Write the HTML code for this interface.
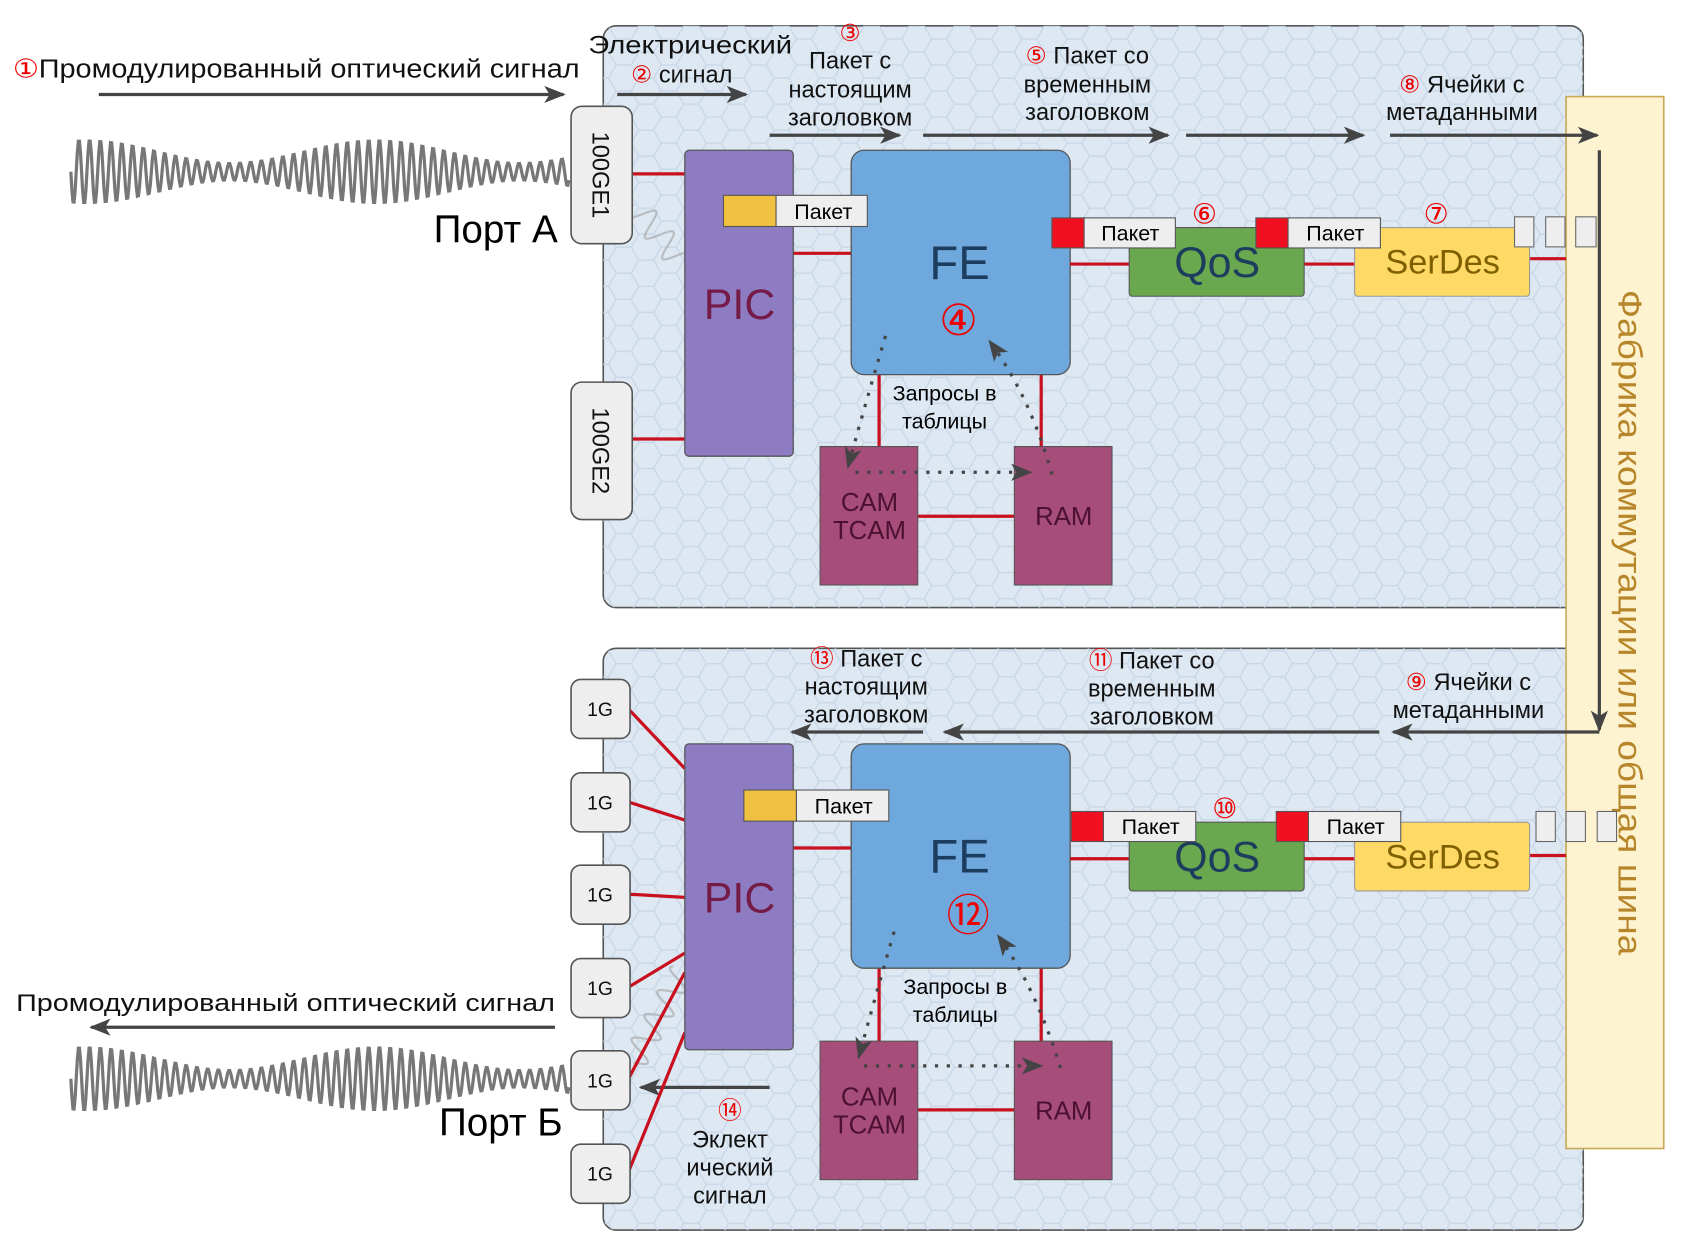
<!DOCTYPE html>
<html><head><meta charset="utf-8"><style>
html,body{margin:0;padding:0;background:#fff}
svg{display:block}
text{font-family:"Liberation Sans",sans-serif}
</style></head><body>
<svg width="1682" height="1236" viewBox="0 0 1567 1151.5" xmlns="http://www.w3.org/2000/svg">
<defs>
<pattern id="hex" width="42" height="24.25" patternUnits="userSpaceOnUse">
<path d="M0,12.1 L7,0 L21,0 L28,12.1 L21,24.25 L7,24.25 Z M28,12.1 L42,12.1" fill="none" stroke="#c9d7e6" stroke-width="1.3"/>
</pattern>
<marker id="ah2" markerWidth="20" markerHeight="20" refX="18" refY="10" orient="auto" markerUnits="userSpaceOnUse" viewBox="0 0 20 20">
<path d="M0,2 L20,10 L0,18 L5,10 Z" fill="#444"/>
</marker>
</defs>

<rect x="562" y="24" width="913" height="542" rx="12" fill="#dde8f3" stroke="#555" stroke-width="1.5"/>
<rect x="562" y="24" width="913" height="542" rx="12" fill="url(#hex)"/>
<rect x="562" y="604" width="913" height="542" rx="12" fill="#dde8f3" stroke="#555" stroke-width="1.5"/>
<rect x="562" y="604" width="913" height="542" rx="12" fill="url(#hex)"/>

<rect x="1459" y="90" width="91" height="980" fill="#fdf3d0" stroke="#c9a85a" stroke-width="1.5"/>
<text x="0" y="0" transform="translate(1508,580) rotate(90)" text-anchor="middle" font-size="31" fill="#b8862a" textLength="620" lengthAdjust="spacingAndGlyphs">Фабрика коммутации или общая шина</text>
<line x1="1490" y1="140" x2="1490" y2="680" stroke="#444" stroke-width="3" marker-end="url(#ah2)"/>

<path id="w1" fill="none" stroke="#777" stroke-width="3"/>
<path id="w2" fill="none" stroke="#777" stroke-width="3"/>
<path id="w3" fill="none" stroke="#aaa" stroke-width="2" opacity="0.7"/>
<path id="w4" fill="none" stroke="#aaa" stroke-width="2" opacity="0.7"/>
<script>
function wave(id,y0,x0,x1){var d="";for(var x=x0;x<=x1;x+=1){var A=19+11*Math.cos(2*Math.PI*(x-80)/270);var y=y0+A*Math.sin(2*Math.PI*(x-x0)/10);d+=(x==x0?"M":"L")+x+","+y.toFixed(1);}document.getElementById(id).setAttribute("d",d);}
wave("w1",160,66,530);wave("w2",1005,66,530);
function dw(id,ax,ay,bx,by){var d="",n=120;var dx=bx-ax,dy=by-ay,L=Math.hypot(dx,dy),nx=-dy/L,ny=dx/L;for(var i=0;i<=n;i++){var t=i/n;var s=12*Math.sin(t*L/4);d+=(i?"L":"M")+(ax+dx*t+nx*s).toFixed(1)+","+(ay+dy*t+ny*s).toFixed(1);}document.getElementById(id).setAttribute("d",d);}
dw("w3",590,190,636,245);dw("w4",590,990,636,905);
</script>

<text x="12" y="72" font-size="24" fill="#111" textLength="528" lengthAdjust="spacingAndGlyphs"><tspan fill="#e00">①</tspan>Промодулированный оптический сигнал</text>
<line x1="92" y1="88" x2="525" y2="88" stroke="#444" stroke-width="3" marker-end="url(#ah2)"/>
<text x="548" y="50" font-size="23" fill="#111" textLength="190" lengthAdjust="spacingAndGlyphs">Электрический</text>
<text x="588" y="77" font-size="22" fill="#111"><tspan fill="#e00">②</tspan> сигнал</text>
<line x1="575" y1="88" x2="695" y2="88" stroke="#444" stroke-width="3" marker-end="url(#ah2)"/>
<text x="792" y="38" font-size="22" fill="#e00" text-anchor="middle">③</text>
<text font-size="22" fill="#111" text-anchor="middle"><tspan x="792" y="64">Пакет с</tspan><tspan x="792" y="91">настоящим</tspan><tspan x="792" y="117">заголовком</tspan></text>
<line x1="717" y1="126" x2="838" y2="126" stroke="#444" stroke-width="3" marker-end="url(#ah2)"/>
<text font-size="22" fill="#111" text-anchor="middle"><tspan x="1013" y="59"><tspan fill="#e00">⑤</tspan> Пакет со</tspan><tspan x="1013" y="86">временным</tspan><tspan x="1013" y="112">заголовком</tspan></text>
<line x1="860" y1="126" x2="1088" y2="126" stroke="#444" stroke-width="3" marker-end="url(#ah2)"/>
<line x1="1105" y1="126" x2="1270" y2="126" stroke="#444" stroke-width="3" marker-end="url(#ah2)"/>
<text font-size="22" fill="#111" text-anchor="middle"><tspan x="1362" y="86"><tspan fill="#e00">⑧</tspan> Ячейки с</tspan><tspan x="1362" y="112">метаданными</tspan></text>
<line x1="1295" y1="126" x2="1488" y2="126" stroke="#444" stroke-width="3" marker-end="url(#ah2)"/>

<text x="404" y="226" font-size="36" fill="#000">Порт А</text>

<line x1="589" y1="162" x2="638" y2="162" stroke="#c8101e" stroke-width="3"/>
<line x1="589" y1="409" x2="638" y2="409" stroke="#c8101e" stroke-width="3"/>
<rect x="532" y="99" width="57" height="128" rx="10" fill="#eee" stroke="#555" stroke-width="1.5"/>
<text transform="translate(552,163) rotate(90)" font-size="22" text-anchor="middle" fill="#111">100GE1</text>
<rect x="532" y="356" width="57" height="128" rx="10" fill="#eee" stroke="#555" stroke-width="1.5"/>
<text transform="translate(552,420) rotate(90)" font-size="22" text-anchor="middle" fill="#111">100GE2</text>

<line x1="739" y1="236" x2="793" y2="236" stroke="#c8101e" stroke-width="3"/>
<rect x="638" y="140" width="101" height="285" rx="4" fill="#8e7cc3" stroke="#555" stroke-width="1.2"/>
<text x="689" y="297" font-size="40" fill="#741b47" text-anchor="middle">PIC</text>
<line x1="819" y1="349" x2="819" y2="416" stroke="#c8101e" stroke-width="3"/>
<line x1="970" y1="349" x2="970" y2="416" stroke="#c8101e" stroke-width="3"/>
<rect x="793" y="140" width="204" height="209" rx="12" fill="#6fa8dc" stroke="#555" stroke-width="1.2"/>
<text x="894" y="260" font-size="44" fill="#1c3d5e" text-anchor="middle">FE</text>
<text x="893" y="312" font-size="40" fill="#e00" text-anchor="middle">④</text>
<rect x="674" y="182" width="49" height="29" fill="#f0c040" stroke="#555"/>
<rect x="723" y="182" width="85" height="29" fill="#eee" stroke="#555"/>
<text x="767" y="204" font-size="20" text-anchor="middle" fill="#000">Пакет</text>

<line x1="997" y1="246" x2="1052" y2="246" stroke="#c8101e" stroke-width="3"/>
<line x1="1215" y1="246" x2="1262" y2="246" stroke="#c8101e" stroke-width="3"/>
<line x1="1425" y1="241" x2="1459" y2="241" stroke="#c8101e" stroke-width="3"/>
<rect x="1052" y="212" width="163" height="64" rx="3" fill="#6aa84f" stroke="#555"/>
<text x="1134" y="258" font-size="40" fill="#1c3d5e" text-anchor="middle">QoS</text>
<rect x="1262" y="212" width="163" height="64" rx="3" fill="#ffd966" stroke="#999"/>
<text x="1344" y="255" font-size="32" fill="#7f6000" text-anchor="middle">SerDes</text>
<rect x="980" y="203" width="30" height="28" fill="#f01020" stroke="#555"/>
<rect x="1010" y="203" width="85" height="28" fill="#eee" stroke="#555"/>
<text x="1053" y="224" font-size="20" text-anchor="middle" fill="#000">Пакет</text>
<rect x="1170" y="203" width="30" height="28" fill="#f01020" stroke="#555"/>
<rect x="1200" y="203" width="86" height="28" fill="#eee" stroke="#555"/>
<text x="1244" y="224" font-size="20" text-anchor="middle" fill="#000">Пакет</text>
<text x="1122" y="208" font-size="26" fill="#e00" text-anchor="middle">⑥</text>
<text x="1338" y="208" font-size="26" fill="#e00" text-anchor="middle">⑦</text>
<rect x="1411" y="202" width="18" height="28" fill="#eee" stroke="#666"/>
<rect x="1440" y="202" width="18" height="28" fill="#eee" stroke="#666"/>
<rect x="1468" y="202" width="19" height="28" fill="#eee" stroke="#666"/>

<line x1="855" y1="481" x2="945" y2="481" stroke="#c8101e" stroke-width="3"/>
<rect x="764" y="416" width="91" height="129" fill="#a64d79" stroke="#555"/>
<text font-size="24" fill="#4c1130" text-anchor="middle"><tspan x="810" y="476">CAM</tspan><tspan x="810" y="502">TCAM</tspan></text>
<rect x="945" y="416" width="91" height="129" fill="#a64d79" stroke="#555"/>
<text x="991" y="489" font-size="24" fill="#4c1130" text-anchor="middle">RAM</text>
<text font-size="20" fill="#000" text-anchor="middle"><tspan x="880" y="373">Запросы в</tspan><tspan x="880" y="399">таблицы</tspan></text>
<path d="M825,313 Q805,380 790,435" fill="none" stroke="#444" stroke-width="3" stroke-dasharray="3,8" marker-end="url(#ah2)"/>
<line x1="797" y1="440" x2="960" y2="440" stroke="#444" stroke-width="3" stroke-dasharray="3,8" marker-end="url(#ah2)"/>
<path d="M980,442 Q960,370 922,318" fill="none" stroke="#444" stroke-width="3" stroke-dasharray="3,8" marker-end="url(#ah2)"/>

<text font-size="22" fill="#111" text-anchor="middle"><tspan x="807" y="621"><tspan fill="#e00">⑬</tspan> Пакет с</tspan><tspan x="807" y="647">настоящим</tspan><tspan x="807" y="673">заголовком</tspan></text>
<line x1="860" y1="682" x2="738" y2="682" stroke="#444" stroke-width="3" marker-end="url(#ah2)"/>
<text font-size="22" fill="#111" text-anchor="middle"><tspan x="1073" y="623"><tspan fill="#e00">⑪</tspan> Пакет со</tspan><tspan x="1073" y="649">временным</tspan><tspan x="1073" y="675">заголовком</tspan></text>
<line x1="1285" y1="682" x2="880" y2="682" stroke="#444" stroke-width="3" marker-end="url(#ah2)"/>
<text font-size="22" fill="#111" text-anchor="middle"><tspan x="1368" y="643"><tspan fill="#e00">⑨</tspan> Ячейки с</tspan><tspan x="1368" y="669">метаданными</tspan></text>
<line x1="1490" y1="682" x2="1298" y2="682" stroke="#444" stroke-width="3" marker-end="url(#ah2)"/>

<text x="15" y="942" font-size="22" fill="#111" textLength="502" lengthAdjust="spacingAndGlyphs">Промодулированный оптический сигнал</text>
<line x1="517" y1="957" x2="85" y2="957" stroke="#444" stroke-width="3" marker-end="url(#ah2)"/>
<text x="409" y="1058" font-size="36" fill="#000">Порт Б</text>
<line x1="717" y1="1013" x2="597" y2="1013" stroke="#444" stroke-width="3" marker-end="url(#ah2)"/>
<text x="680" y="1042" font-size="22" fill="#e00" text-anchor="middle">⑭</text>
<text font-size="22" fill="#111" text-anchor="middle"><tspan x="680" y="1069">Эклект</tspan><tspan x="680" y="1095">ический</tspan><tspan x="680" y="1121">сигнал</tspan></text>

<g stroke="#c8101e" stroke-width="3">
<line x1="585" y1="660" x2="638" y2="716"/>
<line x1="585" y1="747" x2="638" y2="764"/>
<line x1="585" y1="833" x2="638" y2="836"/>
<line x1="585" y1="920" x2="638" y2="888"/>
<line x1="585" y1="1006" x2="638" y2="906"/>
<line x1="585" y1="1093" x2="638" y2="962"/>
</g>
<g fill="#eee" stroke="#555" stroke-width="1.5">
<rect x="532" y="633" width="55" height="55" rx="9"/>
<rect x="532" y="720" width="55" height="55" rx="9"/>
<rect x="532" y="806" width="55" height="55" rx="9"/>
<rect x="532" y="893" width="55" height="55" rx="9"/>
<rect x="532" y="979" width="55" height="55" rx="9"/>
<rect x="532" y="1066" width="55" height="55" rx="9"/>
</g>
<g font-size="18" fill="#111" text-anchor="middle">
<text x="559" y="667">1G</text><text x="559" y="754">1G</text><text x="559" y="840">1G</text>
<text x="559" y="927">1G</text><text x="559" y="1013">1G</text><text x="559" y="1100">1G</text>
</g>

<line x1="739" y1="790" x2="793" y2="790" stroke="#c8101e" stroke-width="3"/>
<rect x="638" y="693" width="101" height="285" rx="4" fill="#8e7cc3" stroke="#555" stroke-width="1.2"/>
<text x="689" y="850" font-size="40" fill="#741b47" text-anchor="middle">PIC</text>
<line x1="819" y1="902" x2="819" y2="970" stroke="#c8101e" stroke-width="3"/>
<line x1="970" y1="902" x2="970" y2="970" stroke="#c8101e" stroke-width="3"/>
<rect x="793" y="693" width="204" height="209" rx="12" fill="#6fa8dc" stroke="#555" stroke-width="1.2"/>
<text x="894" y="813" font-size="44" fill="#1c3d5e" text-anchor="middle">FE</text>
<text x="902" y="867" font-size="40" fill="#e00" text-anchor="middle">⑫</text>
<rect x="693" y="736" width="49" height="29" fill="#f0c040" stroke="#555"/>
<rect x="742" y="736" width="86" height="29" fill="#eee" stroke="#555"/>
<text x="786" y="758" font-size="20" text-anchor="middle" fill="#000">Пакет</text>

<line x1="997" y1="800" x2="1052" y2="800" stroke="#c8101e" stroke-width="3"/>
<line x1="1215" y1="800" x2="1262" y2="800" stroke="#c8101e" stroke-width="3"/>
<line x1="1425" y1="797" x2="1459" y2="797" stroke="#c8101e" stroke-width="3"/>
<rect x="1052" y="766" width="163" height="64" rx="3" fill="#6aa84f" stroke="#555"/>
<text x="1134" y="812" font-size="40" fill="#1c3d5e" text-anchor="middle">QoS</text>
<rect x="1262" y="766" width="163" height="64" rx="3" fill="#ffd966" stroke="#999"/>
<text x="1344" y="809" font-size="32" fill="#7f6000" text-anchor="middle">SerDes</text>
<rect x="998" y="756" width="30" height="28" fill="#f01020" stroke="#555"/>
<rect x="1028" y="756" width="86" height="28" fill="#eee" stroke="#555"/>
<text x="1072" y="777" font-size="20" text-anchor="middle" fill="#000">Пакет</text>
<rect x="1189" y="756" width="30" height="28" fill="#f01020" stroke="#555"/>
<rect x="1219" y="756" width="86" height="28" fill="#eee" stroke="#555"/>
<text x="1263" y="777" font-size="20" text-anchor="middle" fill="#000">Пакет</text>
<text x="1141" y="762" font-size="26" fill="#e00" text-anchor="middle">⑩</text>
<rect x="1431" y="756" width="18" height="28" fill="#eee" stroke="#666"/>
<rect x="1459" y="756" width="18" height="28" fill="#eee" stroke="#666"/>
<rect x="1488" y="756" width="18" height="28" fill="#eee" stroke="#666"/>

<line x1="855" y1="1034" x2="945" y2="1034" stroke="#c8101e" stroke-width="3"/>
<rect x="764" y="970" width="91" height="129" fill="#a64d79" stroke="#555"/>
<text font-size="24" fill="#4c1130" text-anchor="middle"><tspan x="810" y="1030">CAM</tspan><tspan x="810" y="1056">TCAM</tspan></text>
<rect x="945" y="970" width="91" height="129" fill="#a64d79" stroke="#555"/>
<text x="991" y="1043" font-size="24" fill="#4c1130" text-anchor="middle">RAM</text>
<text font-size="20" fill="#000" text-anchor="middle"><tspan x="890" y="926">Запросы в</tspan><tspan x="890" y="952">таблицы</tspan></text>
<path d="M833,868 Q815,930 800,985" fill="none" stroke="#444" stroke-width="3" stroke-dasharray="3,8" marker-end="url(#ah2)"/>
<line x1="805" y1="993" x2="970" y2="993" stroke="#444" stroke-width="3" stroke-dasharray="3,8" marker-end="url(#ah2)"/>
<path d="M988,995 Q965,920 930,872" fill="none" stroke="#444" stroke-width="3" stroke-dasharray="3,8" marker-end="url(#ah2)"/>
</svg>
</body></html>
